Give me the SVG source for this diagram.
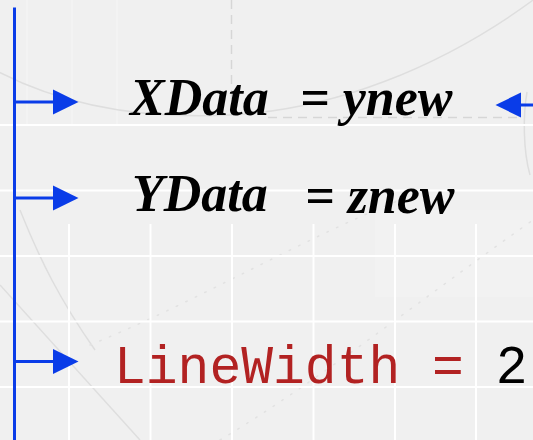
<svg xmlns="http://www.w3.org/2000/svg" width="533" height="440" viewBox="0 0 533 440">
  <defs>
    <style>
      .grid { stroke: #ffffff; stroke-width: 2; fill: none; }
      .faint { stroke: #ffffff; stroke-width: 1.5; fill: none; opacity: 0.3; }
      .arc { stroke: #dedede; stroke-width: 1.5; fill: none; }
      .dash { stroke: #d6d6d6; stroke-width: 1.5; fill: none; stroke-dasharray: 9 6; }
      .dots { stroke: #e2e2e2; stroke-width: 1.5; fill: none; stroke-dasharray: 1.5 9; stroke-linecap: round; }
      .wire { stroke: #0a3ce8; stroke-width: 3; fill: none; }
      .head { fill: #0a3ce8; }
      .prop { font-family: "Liberation Serif", "Times New Roman", serif; font-weight: bold; font-style: italic; font-size: 52px; fill: #000000; }
      .code { font-family: "Liberation Mono", "Courier New", monospace; font-size: 53px; fill: #b22222; }
    </style>
  </defs>

  <!-- backdrop -->
  <rect x="0" y="0" width="533" height="440" fill="#f0f0f0"/>
  <rect x="375" y="210" width="158" height="87" fill="#f2f2f2"/>

  <!-- faint upper stripes -->
  <g class="faint">
    <line x1="27" y1="0" x2="27" y2="124"/>
    <line x1="72" y1="0" x2="72" y2="124"/>
    <line x1="117" y1="0" x2="117" y2="124"/>
  </g>

  <!-- decorative arcs -->
  <path class="arc" d="M -5,70 C 80,115 170,118 230,115 C 330,110 440,70 540,-5"/>
  <path class="arc" d="M 527,92 C 523,115 523,150 530,175"/>
  <path class="arc" d="M 0,285 C 40,330 90,385 140,440"/>
  <path class="arc" d="M 20,210 C 40,260 60,300 95,350"/>
  <path class="dots" d="M 90,345 C 200,300 300,240 400,200"/>
  <path class="dots" d="M 220,440 C 320,380 420,300 533,220"/>

  <!-- dashed guides -->
  <line class="dash" x1="231.5" y1="0" x2="231.5" y2="117"/>
  <line class="dash" x1="268" y1="117.5" x2="522" y2="117.5"/>

  <!-- white grid -->
  <g class="grid">
    <line x1="0" y1="125" x2="533" y2="125"/>
    <line x1="0" y1="190.5" x2="533" y2="190.5"/>
    <line x1="0" y1="256" x2="533" y2="256"/>
    <line x1="0" y1="321.5" x2="533" y2="321.5"/>
    <line x1="0" y1="387" x2="533" y2="387"/>
    <line x1="69" y1="224" x2="69" y2="440"/>
    <line x1="150.5" y1="224" x2="150.5" y2="440"/>
    <line x1="232" y1="224" x2="232" y2="440"/>
    <line x1="313.5" y1="224" x2="313.5" y2="440"/>
    <line x1="395" y1="224" x2="395" y2="440"/>
    <line x1="476" y1="224" x2="476" y2="440"/>
  </g>

  <!-- connectors -->
  <g id="connectors">
    <line class="wire" x1="14.5" y1="7.5" x2="14.5" y2="440"/>
    <line class="wire" x1="14.5" y1="102" x2="55" y2="102"/>
    <polygon class="head" points="53,89.5 78.5,102 53,114.5"/>
    <line class="wire" x1="14.5" y1="198" x2="55" y2="198"/>
    <polygon class="head" points="53,185.5 78.5,198 53,210.5"/>
    <line class="wire" x1="14.5" y1="361.5" x2="55" y2="361.5"/>
    <polygon class="head" points="53,349 78.5,361.5 53,374"/>
    <line class="wire" x1="519" y1="105" x2="533" y2="105"/>
    <polygon class="head" points="521,92.5 495.5,105 521,117.5"/>
  </g>

  <!-- XData = ynew -->
  <g id="xdata">
    <text class="prop" x="130" y="115">XData</text>
    <text class="prop" x="300" y="115">= ynew</text>
  </g>

  <!-- YData = znew -->
  <g id="ydata">
    <text class="prop" x="132" y="211">YData</text>
    <text class="prop" x="305" y="213">= znew</text>
  </g>

  <!-- LineWidth = 2 -->
  <g id="linewidth">
    <text class="code" x="114" y="382.5">LineWidth =<tspan fill="#000000"> 2</tspan></text>
  </g>
</svg>
